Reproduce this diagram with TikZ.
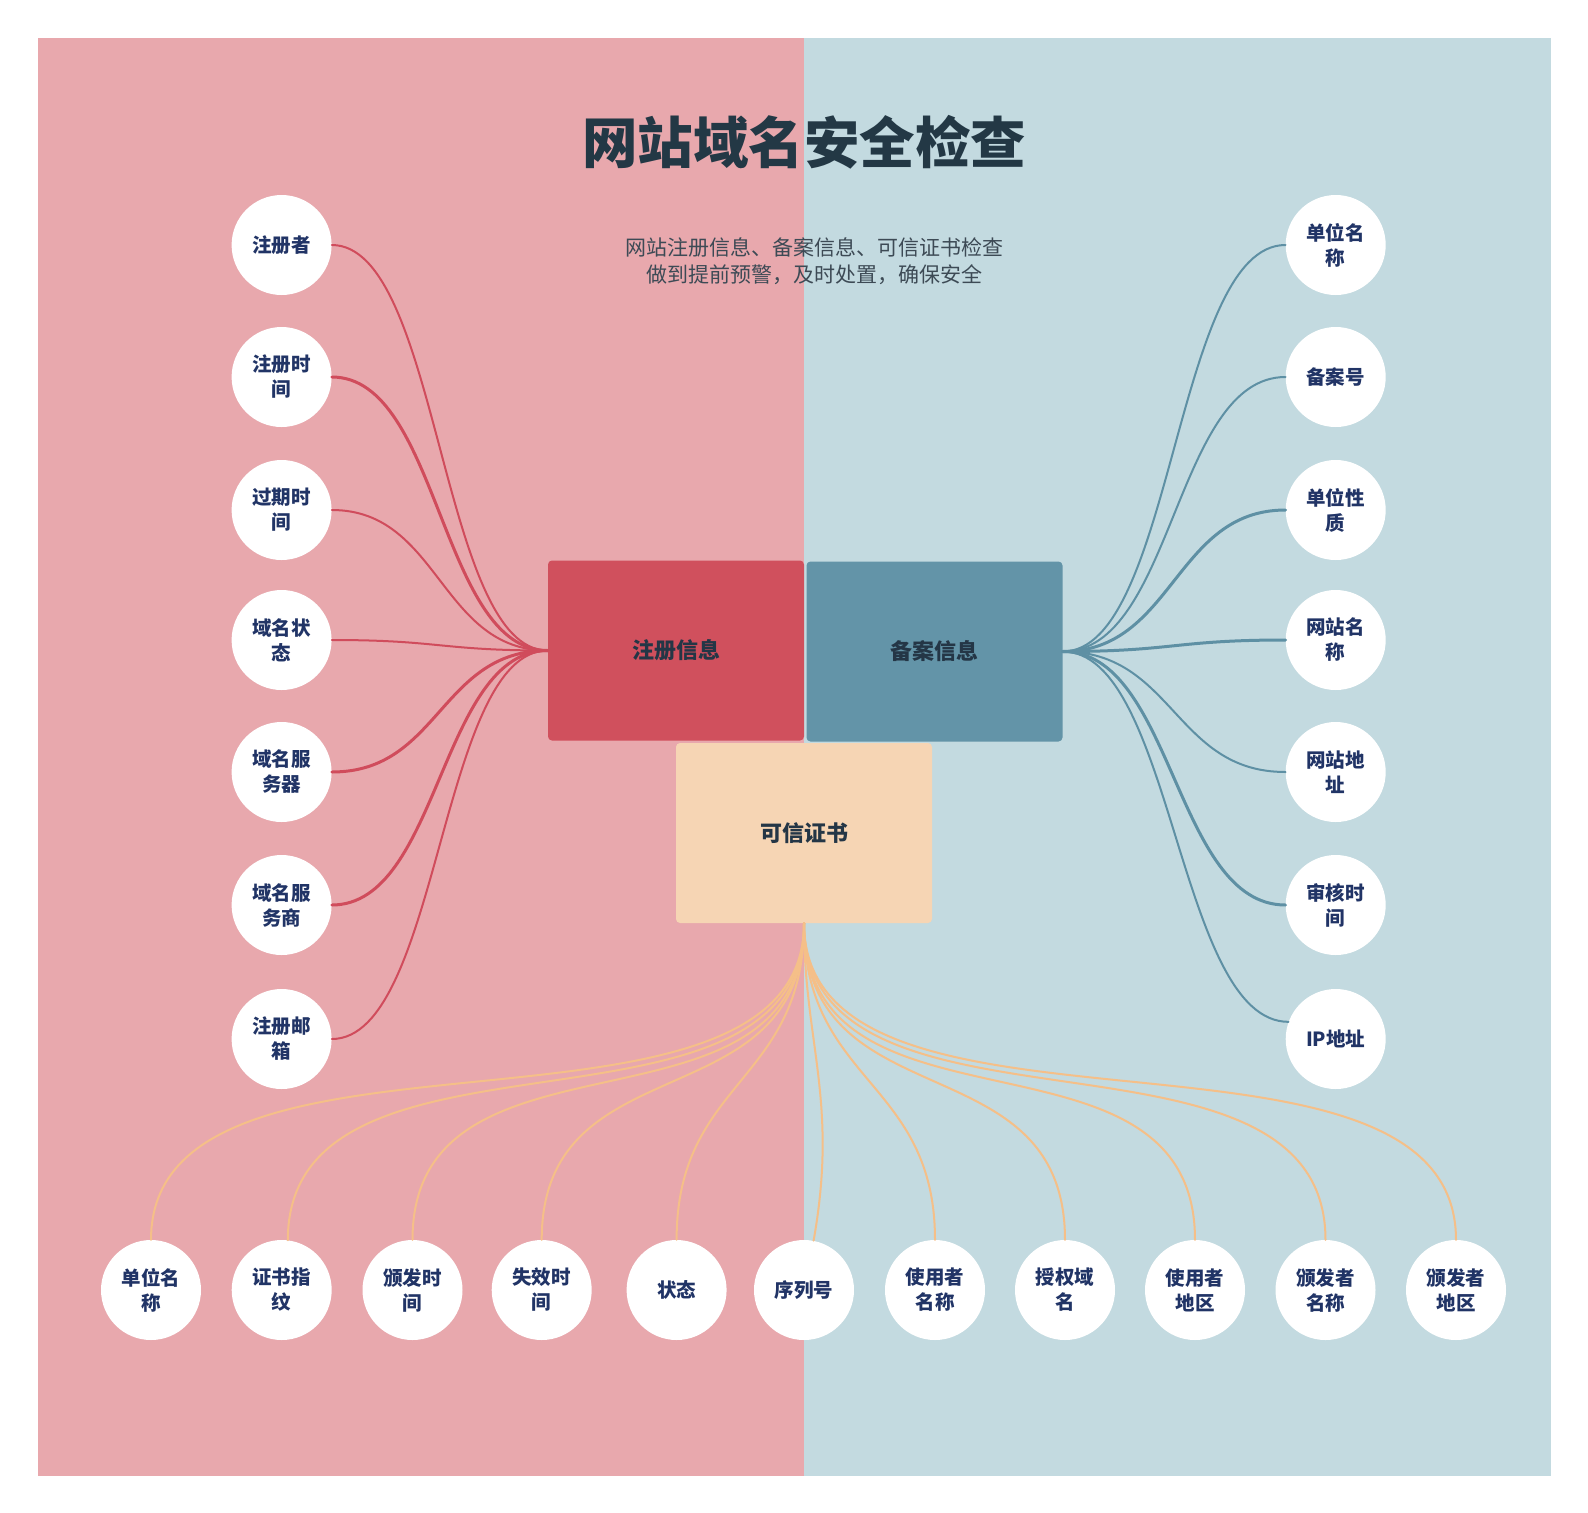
\documentclass[tikz,border=0pt]{standalone}
\usepackage{fontspec}
\setmainfont{Noto Sans CJK SC}
\newfontfamily\heavyfont{Noto Sans CJK SC Black}
\definecolor{bgred}{HTML}{E8A8AD}
\definecolor{bgblue}{HTML}{C3DAE0}
\definecolor{hubred}{HTML}{D0505D}
\definecolor{hubblue}{HTML}{6394A8}
\definecolor{hubpeach}{HTML}{F6D5B4}
\definecolor{linered}{HTML}{D04C5C}
\definecolor{lineblue}{HTML}{5E90A4}
\definecolor{linepeach}{HTML}{F5BF88}
\definecolor{titlecol}{HTML}{233845}
\definecolor{subcol}{HTML}{3D4A55}
\definecolor{leaftext}{HTML}{213466}
\definecolor{hubtext}{HTML}{243646}
\begin{document}
\begin{tikzpicture}[x=1pt, y=-1pt, line join=round, line cap=round,
		leaf/.style={circle, fill=white, minimum size=100pt, inner sep=0pt, align=center, text=leaftext, font=\fontsize{19.5}{25}\selectfont\bfseries},
		hub/.style={rectangle, rounded corners=4pt, minimum width=256pt, minimum height=180pt, inner sep=0pt, text=hubtext, font=\fontsize{22}{26}\selectfont\bfseries},
		redline/.style={draw=linered, line width=2pt},
		blueline/.style={draw=lineblue, line width=2pt},
		peachline/.style={draw=linepeach, line width=2pt},
		heavy/.style={line width=3pt}]
	\useasboundingbox (0,0) rectangle (1588,1513);
	\fill[bgred] (37.5,37.5) rectangle (804,1475.5);
	\fill[bgblue] (804,37.5) rectangle (1550.5,1475.5);
	% title
	\node[text=titlecol, font=\fontsize{55.5}{60}\selectfont\heavyfont] (title) at (804,142) {网站域名安全检查};
	\node[text=subcol, align=center, font=\fontsize{21}{27}\selectfont] (sub) at (814,261.5) {网站注册信息、备案信息、可信证书检查\\做到提前预警，及时处置，确保安全};
	% hubs
	\node[hub, fill=hubred] (reg) at (676,650.5) {注册信息};
	\node[hub, fill=hubblue] (rec) at (934.5,651.5) {备案信息};
	\node[hub, fill=hubpeach] (cert) at (804,833) {可信证书};
	% left leaves
	\node[leaf] (l1) at (281.6,245) {注册者};
	\node[leaf] (l2) at (281.6,377) {注册时\\间};
	\node[leaf] (l3) at (281.6,510) {过期时\\间};
	\node[leaf] (l4) at (281.6,640) {域名状\\态};
	\node[leaf] (l5) at (281.6,772) {域名服\\务器};
	\node[leaf] (l6) at (281.6,905) {域名服\\务商};
	\node[leaf] (l7) at (281.6,1039) {注册邮\\箱};
	% right leaves
	\node[leaf] (r1) at (1335.7,245) {单位名\\称};
	\node[leaf] (r2) at (1335.7,377) {备案号};
	\node[leaf] (r3) at (1335.7,510) {单位性\\质};
	\node[leaf] (r4) at (1335.7,640) {网站名\\称};
	\node[leaf] (r5) at (1335.7,772) {网站地\\址};
	\node[leaf] (r6) at (1335.7,905) {审核时\\间};
	\node[leaf] (r7) at (1335.7,1039) {IP地址};
	% bottom leaves
	\node[leaf] (b1) at (151,1290) {单位名\\称};
	\node[leaf] (b2) at (281.7,1290) {证书指\\纹};
	\node[leaf] (b3) at (412.5,1290) {颁发时\\间};
	\node[leaf] (b4) at (541.7,1290) {失效时\\间};
	\node[leaf] (b5) at (676.6,1290) {状态};
	\node[leaf] (b6) at (804,1290) {序列号};
	\node[leaf] (b7) at (935,1290) {使用者\\名称};
	\node[leaf] (b8) at (1065,1290) {授权域\\名};
	\node[leaf] (b9) at (1195,1290) {使用者\\地区};
	\node[leaf] (b10) at (1325.5,1290) {颁发者\\名称};
	\node[leaf] (b11) at (1456,1290) {颁发者\\地区};
	% left connectors
	\draw[redline] (reg.west) .. controls +(-108,0) and +(108,0) .. (l1.east);
	\draw[redline, heavy] (reg.west) .. controls +(-108,0) and +(108,0) .. (l2.east);
	\draw[redline] (reg.west) .. controls +(-108,0) and +(108,0) .. (l3.east);
	\draw[redline] (reg.west) .. controls +(-108,0) and +(108,0) .. (l4.east);
	\draw[redline, heavy] (reg.west) .. controls +(-108,0) and +(108,0) .. (l5.east);
	\draw[redline, heavy] (reg.west) .. controls +(-108,0) and +(108,0) .. (l6.east);
	\draw[redline] (reg.west) .. controls +(-108,0) and +(108,0) .. (l7.east);
	% right connectors
	\draw[blueline] (rec.east) .. controls +(111,0) and +(-111,0) .. (r1.west);
	\draw[blueline] (rec.east) .. controls +(111,0) and +(-111,0) .. (r2.west);
	\draw[blueline, heavy] (rec.east) .. controls +(111,0) and +(-111,0) .. (r3.west);
	\draw[blueline, heavy] (rec.east) .. controls +(111,0) and +(-111,0) .. (r4.west);
	\draw[blueline] (rec.east) .. controls +(111,0) and +(-111,0) .. (r5.west);
	\draw[blueline, heavy] (rec.east) .. controls +(111,0) and +(-111,0) .. (r6.west);
	\draw[blueline] (rec.east) .. controls +(111,0) and +(-111,0) .. (r7.160);
	% bottom connectors
	\draw[peachline] (cert.south) .. controls +(0,250) and +(0,-250) .. (b1.north);
	\draw[peachline] (cert.south) .. controls +(0,240) and +(0,-240) .. (b2.83);
	\draw[peachline] (cert.south) .. controls +(0,230) and +(0,-230) .. (b3.north);
	\draw[peachline] (cert.south) .. controls +(0,200) and +(0,-200) .. (b4.north);
	\draw[peachline] (cert.south) .. controls +(0,160) and +(0,-160) .. (b5.north);
	\draw[peachline] (cert.south) .. controls +(0,120) and +(25,-140) .. (b6.79);
	\draw[peachline] (cert.south) .. controls +(0,160) and +(0,-160) .. (b7.north);
	\draw[peachline] (cert.south) .. controls +(0,200) and +(0,-200) .. (b8.north);
	\draw[peachline] (cert.south) .. controls +(0,230) and +(0,-230) .. (b9.north);
	\draw[peachline] (cert.south) .. controls +(0,240) and +(0,-240) .. (b10.north);
	\draw[peachline] (cert.south) .. controls +(0,250) and +(0,-250) .. (b11.north);
\end{tikzpicture}
\end{document}
